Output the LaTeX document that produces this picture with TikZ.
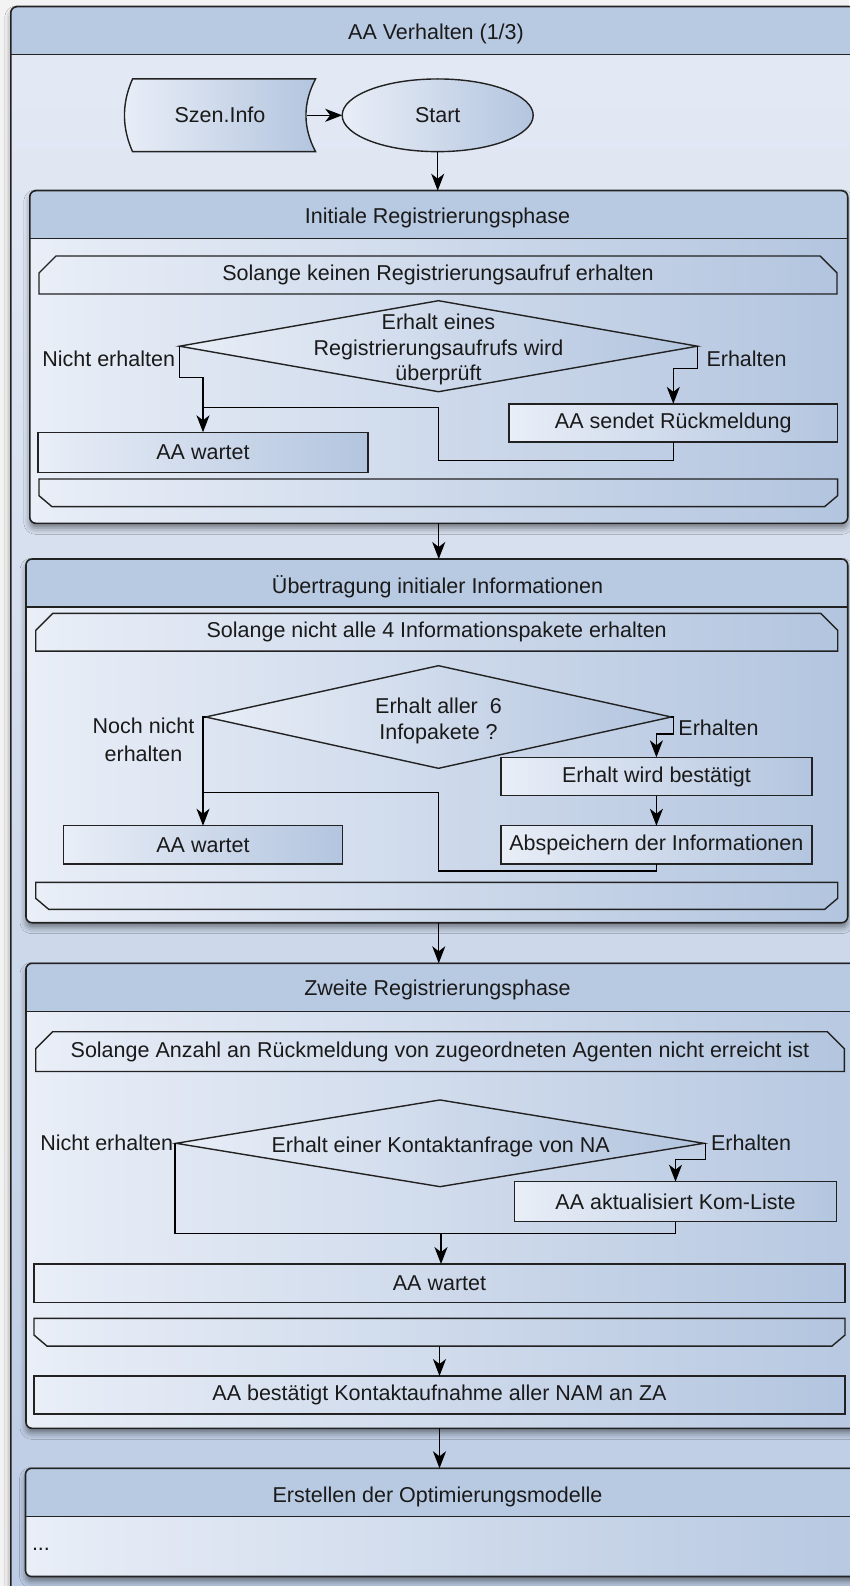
\documentclass[tikz,border=0pt]{standalone}
\usepackage{fontspec}
\setmainfont{Liberation Sans}
\usetikzlibrary{arrows.meta,shapes.geometric,calc,shadows.blur}

\definecolor{edge}{HTML}{222222}
\definecolor{ink}{HTML}{1A1A1A}
\definecolor{headfill}{HTML}{B8C9E2}
\definecolor{lite}{HTML}{E9EEF7}
\definecolor{deep}{HTML}{B3C5DF}
\definecolor{outertop}{HTML}{E4EAF5}
\definecolor{outerbot}{HTML}{BACAE3}
\definecolor{paper}{HTML}{F3F3F3}

\pgfdeclarelayer{frames}
\pgfdeclarelayer{shapes}
\pgfsetlayers{frames,shapes,main}

% outline of a loop start (top corners cut) and a loop end (bottom corners cut)
\newcommand\loophead[1]{%
  \begin{pgfonlayer}{shapes}
    \draw[loopline] (#1.south west) -- ([yshift=-17pt]#1.north west)
      -- ([xshift=17pt]#1.north west) -- ([xshift=-17pt]#1.north east)
      -- ([yshift=-17pt]#1.north east) -- (#1.south east) -- cycle;
  \end{pgfonlayer}}
\newcommand\looptail[1]{%
  \begin{pgfonlayer}{shapes}
    \draw[loopline] (#1.north west) -- ([yshift=11pt]#1.south west)
      -- ([xshift=13pt]#1.south west) -- ([xshift=-13pt]#1.south east)
      -- ([yshift=11pt]#1.south east) -- (#1.north east) -- cycle;
  \end{pgfonlayer}}

\begin{document}
\begin{tikzpicture}[x=1pt,y=1pt,
  txt/.style={font=\fontsize{21.5}{26}\selectfont, text=ink, inner sep=0pt, outer sep=0pt},
  container/.style={draw=edge, line width=1.6pt, rounded corners=6pt, inner sep=0pt,
    outer sep=0pt, anchor=north west, left color=lite, right color=deep,
    blur shadow={shadow xshift=0pt, shadow yshift=-5pt, shadow blur radius=6pt, shadow opacity=45},
    path picture={
      \fill[headfill, sharp corners] (path picture bounding box.north west)
        rectangle ([yshift=-48pt]path picture bounding box.north east);
      \draw[edge, line width=1.6pt, sharp corners]
        ([yshift=-48pt]path picture bounding box.north west)
        -- ([yshift=-48pt]path picture bounding box.north east);}},
  proc/.style={txt, draw=edge, line width=1.4pt, left color=lite, right color=deep,
    minimum height=38.3pt},
  dia/.style={diamond, draw=edge, line width=1.4pt, left color=lite, right color=deep,
    inner sep=0pt, outer sep=0pt},
  loopline/.style={draw=edge, line width=1.4pt, left color=lite, right color=deep},
  startel/.style={txt, ellipse, draw=edge, line width=1.4pt, left color=lite, right color=deep},
  con/.style={draw=black, line width=1.3pt},
  arr/.style={con, -{Stealth[length=17pt,width=13pt,inset=5pt]}}
]
\useasboundingbox (0,0) rectangle (849,-1586);

% frames: whole behaviour and its phases
\begin{pgfonlayer}{frames}
  \fill[paper] (0,0) rectangle (849,-1586);
  \node[container, top color=outertop, bottom color=outerbot,
        minimum width=1000pt, minimum height=1700pt] (outer) at (10.8,-6.7) {};
  \node[container, minimum width=817.9pt, minimum height=332.6pt] (b1) at (29.8,-190.7) {};
  \node[container, minimum width=821.7pt, minimum height=363.7pt] (b2) at (26,-559) {};
  \node[container, minimum width=900pt, minimum height=465pt] (b3) at (26,-963.3) {};
  \node[container, minimum width=900pt, minimum height=108.2pt] (b4) at (25.5,-1468.3) {};
\end{pgfonlayer}

% headers
\node[txt] (h0) at (436,-33.5) {AA Verhalten (1/3)};
\node[txt] (h1) at (437.5,-218) {Initiale Registrierungsphase};
\node[txt] (h2) at (437.5,-586.5) {Übertragung initialer Informationen};
\node[txt] (h3) at (437.5,-990) {Zweite Registrierungsphase};
\node[txt] (h4) at (437.5,-1497) {Erstellen der Optimierungsmodelle};

% input data and start
\node[txt, minimum width=174.9pt, minimum height=72.7pt] (szen) at (220,-115.3) {Szen.Info};
\begin{pgfonlayer}{shapes}
  \draw[loopline] (szen.north west)
    .. controls ($(szen.north west)+(-10.8,-24.2)$) and ($(szen.south west)+(-10.8,24.2)$) .. (szen.south west)
    -- ([xshift=8.1pt]szen.south east)
    .. controls ($(szen.south east)+(-4.7,24.2)$) and ($(szen.north east)+(-4.7,-24.2)$) .. ([xshift=8.1pt]szen.north east)
    -- cycle;
\end{pgfonlayer}
\node[startel, minimum width=191pt, minimum height=72.7pt] (start) at (437.7,-115.3) {Start};
\draw[arr] (szen.east) -- (start.west);
\draw[arr] (start.south) -- (start.south |- b1.north);

% phase 1
\node[txt, minimum width=798pt, minimum height=38pt] (l1) at (438,-275) {Solange keinen Registrierungsaufruf erhalten};
\loophead{l1}
\node[dia, minimum width=518pt, minimum height=91pt] (d1) at (438.5,-346.2) {};
\node[txt, align=center, font=\fontsize{21.5}{25.5}\selectfont] (q1) at (438.5,-349.5) {Erhalt eines\\Registrierungsaufrufs wird\\überprüft};
\node[txt, anchor=east] (n1) at (175,-358.5) {Nicht erhalten};
\node[txt, anchor=west] (y1) at (706.5,-358.5) {Erhalten};
\node[proc, minimum width=328.5pt] (s1) at (673.3,-423) {AA sendet Rückmeldung};
\node[proc, minimum width=330pt, minimum height=40.4pt] (w1) at (203,-452.5) {AA wartet};
\node[txt, minimum width=798.7pt, minimum height=27.7pt] (e1) at (438.3,-492.8) {};
\looptail{e1}
\draw[arr] (d1.west) -- ++(0,-31) -| (w1.north);
\draw[arr] (d1.east) -- ++(0,-22) -| (s1.north);
\coordinate (r1) at (438.5,-407.7);
\coordinate (j1) at (w1.north |- r1);
\draw[con] (s1.south) -- ++(0,-18) -| (r1) -- (j1);
\draw[arr] (b1.south) -- (b1.south |- b2.north);

% phase 2
\node[txt, minimum width=802pt, minimum height=37.7pt] (l2) at (436.7,-632.2) {Solange nicht alle 4 Informationspakete erhalten};
\loophead{l2}
\node[dia, minimum width=465.7pt, minimum height=102.6pt] (d2) at (438.5,-717) {};
\node[txt, align=center] (q2) at (438.5,-720.5) {Erhalt aller \ 6\\Infopakete ?};
\node[txt, align=center, font=\fontsize{21.5}{27.4}\selectfont] (n2) at (143.5,-740) {Noch nicht\\erhalten};
\node[txt, anchor=west] (y2) at (678.4,-728) {Erhalten};
\node[proc, minimum width=311.2pt] (ok2) at (656.4,-776.5) {Erhalt wird bestätigt};
\node[proc, minimum width=311.2pt] (a2) at (656.4,-844.9) {Abspeichern der Informationen};
\node[proc, minimum width=279.4pt] (w2) at (203,-844.9) {AA wartet};
\node[txt, minimum width=802pt, minimum height=27pt] (e2) at (436.7,-895.8) {};
\looptail{e2}
\draw[arr] (d2.west) -| (w2.north);
\draw[arr] (d2.east) -- ++(2,0) -- ++(0,-17) -| (ok2.north);
\draw[arr] (ok2.south) -- (a2.north);
\coordinate (r2) at (438.5,-792.3);
\coordinate (j2) at (w2.north |- r2);
\draw[con] (a2.south) -- ++(0,-7) -| (r2) -- (j2);
\draw[arr] (b2.south -| b1.south) -- (b1.south |- b3.north);

% phase 3
\node[txt, minimum width=808.6pt, minimum height=39.8pt] (l3) at (440,-1051.6) {Solange Anzahl an Rückmeldung von zugeordneten Agenten nicht erreicht ist};
\loophead{l3}
\node[dia, minimum width=527.8pt, minimum height=86.7pt] (d3) at (440,-1143.3) {};
\node[txt] (q3) at (440.7,-1146.5) {Erhalt einer Kontaktanfrage von NA};
\node[txt, anchor=east] (n3) at (173,-1142.5) {Nicht erhalten};
\node[txt, anchor=west] (y3) at (711,-1142.5) {Erhalten};
\node[proc, minimum width=322pt, minimum height=40pt] (k3) at (675.5,-1201.7) {AA aktualisiert Kom-Liste};
\node[proc, minimum width=811pt] (w3) at (439.5,-1283.2) {AA wartet};
\node[txt, minimum width=811pt, minimum height=27.7pt] (e3) at (439.5,-1332.2) {};
\looptail{e3}
\node[proc, minimum width=811pt, minimum height=38pt] (c3) at (439.5,-1395) {AA bestätigt Kontaktaufnahme aller NAM an ZA};
\coordinate (m3) at (441,-1233.3);
\draw[con] (d3.west) -- ++(-1,0) |- (m3) -| (k3.south);
\draw[arr] (m3) -- (m3 |- w3.north);
\draw[arr] (d3.east) -- ++(1.7,0) -- ++(0,-16) -| (k3.north);
\draw[arr] (e3.south) -- (c3.north);
\draw[arr] (c3.south |- b3.south) -- (c3.south |- b4.north);

% phase 4
\node[txt, anchor=west] (dots) at (32,-1549) {...};
\end{tikzpicture}
\end{document}
